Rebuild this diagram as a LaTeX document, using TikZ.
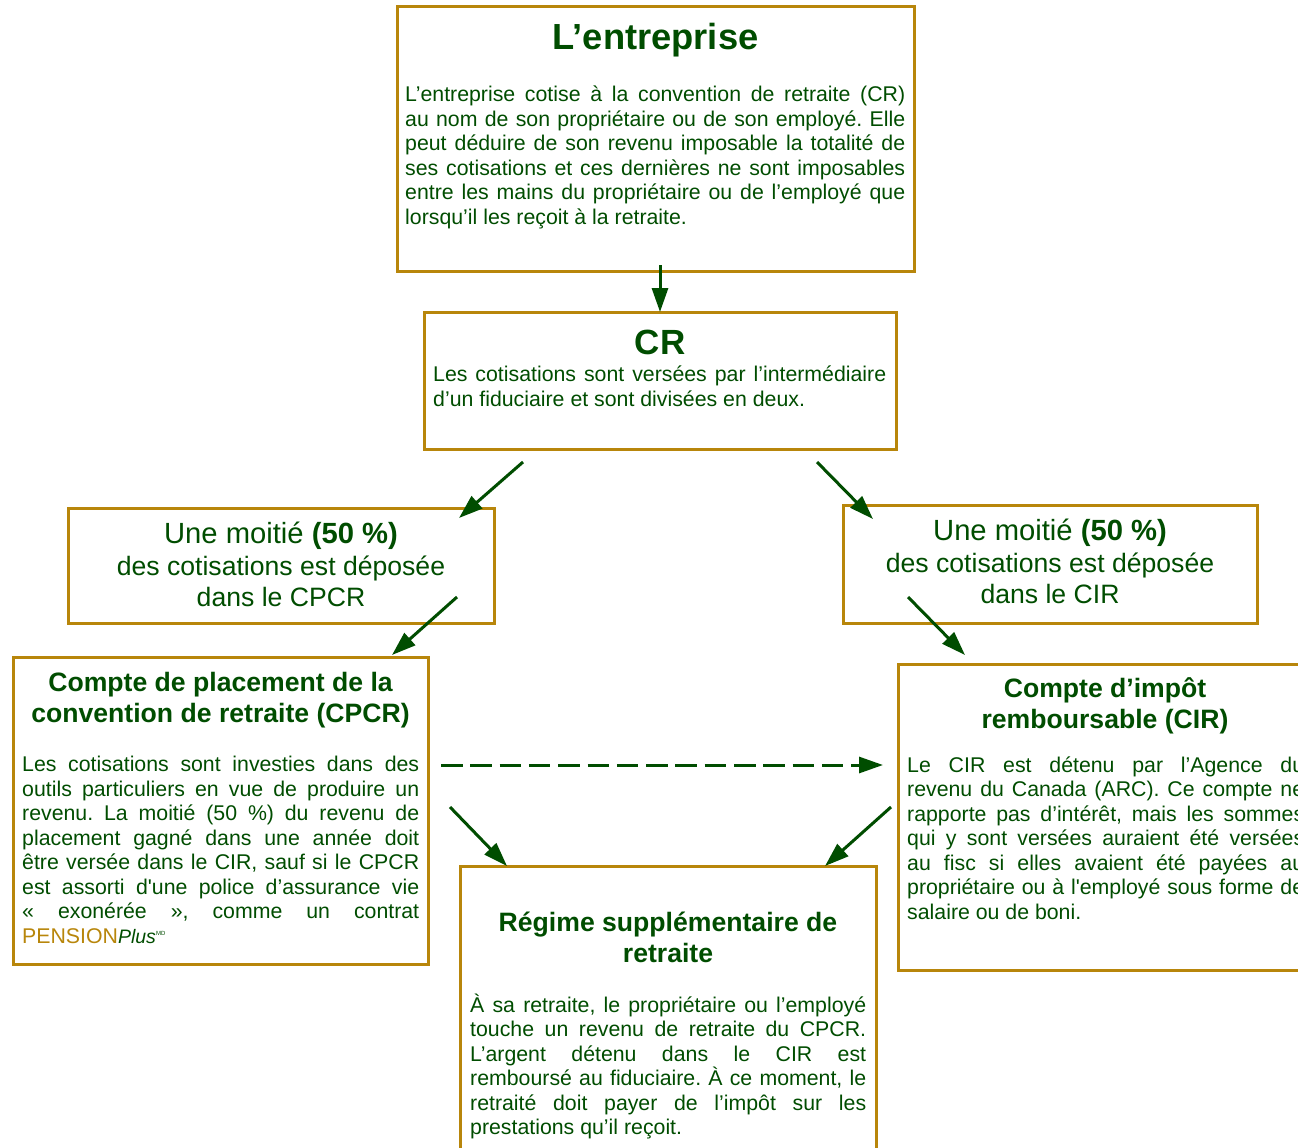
\documentclass[tikz,border=0pt]{standalone}
\usepackage{fontspec}
\setmainfont{Liberation Sans}
\usetikzlibrary{arrows.meta}
\definecolor{dg}{RGB}{0,77,0}
\definecolor{gold}{RGB}{184,134,11}
\newcommand\jl[2][397pt]{\makebox[#1][s]{#2}}
\newcommand\tp{\rule{0pt}{40pt}}
\newcommand\sq{\textquotesingle}
\newcommand\lsk{\frenchspacing\lineskiplimit=-100pt\relax\lineskip=0pt\relax}
\newcommand\bodyfont{\fontsize{21.3}{24.5}\selectfont\lsk}
\newcommand\subfont{\bfseries\fontsize{26.6}{31}\selectfont\lsk}
\newcommand\halffont{\fontsize{26.6}{31.6}\selectfont\lsk}
\newcommand\halfbig{\fontsize{29.2}{31.6}\selectfont}
\tikzset{
  box/.style={draw=gold, line width=3pt, fill=white, anchor=north west, inner sep=0pt, outer sep=0pt},
  body/.style={text=dg, inner sep=0pt, anchor=north west, align=left, font=\bodyfont},
  ttl/.style={text=dg, inner sep=0pt, anchor=north, align=center, font=\subfont},
  bigttl/.style={text=dg, inner sep=0pt, anchor=north, align=center,
    font=\bfseries\fontsize{#1}{#1}\selectfont},
  half/.style={text=dg, inner sep=0pt, anchor=north, align=center, font=\halffont},
  arr/.style={draw=dg, line width=3pt, -{Triangle[length=24pt,width=16pt]}},
}
\begin{document}
\frenchspacing
\begin{tikzpicture}[x=1pt,y=-1pt]
\clip (0,0) rectangle (1298,1148);
\fill[white] (0,0) rectangle (1298,1148);
% boxes
\node[box, minimum width=517pt, minimum height=264pt] (ent) at (397,7) {};
\node[box, minimum width=472pt, minimum height=137pt] (cr) at (424,312) {};
\node[box, minimum width=426pt, minimum height=115pt] (half1) at (68,508) {};
\node[box, minimum width=414pt, minimum height=118pt] (half2) at (843,505) {};
\node[box, minimum width=415pt, minimum height=307pt] (cpcr) at (13,657) {};
\node[box, minimum width=415pt, minimum height=306pt] (cir) at (898,664) {};
\node[box, minimum width=416pt, minimum height=300pt] (rsr) at (460,866) {};
% texts
\node[bigttl=36.3] (entT) at (655.5,9) {\tp L’entreprise};
\node[body] (entB) at (405,61.5) {\tp\jl[500pt]{L’entreprise cotise à la convention de retraite (CR)}\\
\jl[500pt]{au nom de son propriétaire ou de son employé. Elle}\\
\jl[500pt]{peut déduire de son revenu imposable la totalité de}\\
\jl[500pt]{ses cotisations et ces dernières ne sont imposables}\\
\jl[500pt]{entre les mains du propriétaire ou de l’employé que}\\
lorsqu’il les reçoit à la retraite.};
\node[bigttl=35] (crT) at (660,314.5) {\tp CR};
\node[body] (crB) at (433,341.5) {\tp\jl[453pt]{Les cotisations sont versées par l’intermédiaire}\\
d’un fiduciaire et sont divisées en deux.};
\node[half] (half1T) at (281,503.5) {\tp{\halfbig Une moitié \textbf{(50~\%)}}\\des cotisations est déposée\\dans le CPCR};
\node[half] (half2T) at (1050,500.5) {\tp{\halfbig Une moitié \textbf{(50~\%)}}\\des cotisations est déposée\\dans le CIR};
\node[ttl] (cpcrT) at (220.5,651.5) {\tp Compte de placement de la\\convention de retraite (CPCR)};
\node[body] (cpcrB) at (22,731.5) {\tp\jl{Les cotisations sont investies dans des}\\
\jl{outils particuliers en vue de produire un}\\
\jl{revenu. La moitié (50~\%) du revenu de}\\
\jl{placement gagné dans une année doit}\\
\jl{être versée dans le CIR, sauf si le CPCR}\\
\jl{est assorti d\sq une police d’assurance vie}\\
\jl{« exonérée », comme un contrat}\\
{\color{gold}PENSION}{\fontsize{19.5}{20}\selectfont\itshape Plus}\raisebox{8pt}{\fontsize{6}{7}\selectfont MD}};
\node[ttl] (cirT) at (1105,657) {\tp Compte d’impôt\\remboursable (CIR)};
\node[body] (cirB) at (907,732) {\tp\jl{Le CIR est détenu par l’Agence du}\\
\jl{revenu du Canada (ARC). Ce compte ne}\\
\jl{rapporte pas d’intérêt, mais les sommes}\\
\jl{qui y sont versées auraient été versées}\\
\jl{au fisc si elles avaient été payées au}\\
\jl{propriétaire ou à l\sq employé sous forme de}\\
salaire ou de boni.};
\node[ttl] (rsrT) at (668,891.7) {\tp Régime supplémentaire de\\retraite};
\node[body] (rsrB) at (470,972.2) {\tp\jl[396pt]{À sa retraite, le propriétaire ou l’employé}\\
\jl[396pt]{touche un revenu de retraite du CPCR.}\\
\jl[396pt]{L’argent détenu dans le CIR est}\\
\jl[396pt]{remboursé au fiduciaire. À ce moment, le}\\
\jl[396pt]{retraité doit payer de l’impôt sur les}\\
prestations qu’il reçoit.};
% connector ends
\coordinate (c1s) at (523,462); \coordinate (c1e) at (459,518);
\coordinate (c2s) at (817,462); \coordinate (c2e) at (873,519);
\coordinate (c3s) at (457,597); \coordinate (c3e) at (392,655);
\coordinate (c4s) at (908,597); \coordinate (c4e) at (965,655);
\coordinate (c5s) at (441,765); \coordinate (c5e) at (883,765);
\coordinate (c6s) at (450,807); \coordinate (c6e) at (507,866);
\coordinate (c7s) at (891,807); \coordinate (c7e) at (825,866);
% connectors
\draw[arr] ([yshift=6pt]ent.south -| cr.north) -- (cr.north);
\draw[arr] (c1s) -- (c1e);
\draw[arr] (c2s) -- (c2e);
\draw[arr] (c3s) -- (c3e);
\draw[arr] (c4s) -- (c4e);
\draw[arr, dash pattern=on 21.5pt off 7.8pt] (c5s) -- (c5e);
\draw[arr] (c6s) -- (c6e);
\draw[arr] (c7s) -- (c7e);
\end{tikzpicture}
\end{document}
